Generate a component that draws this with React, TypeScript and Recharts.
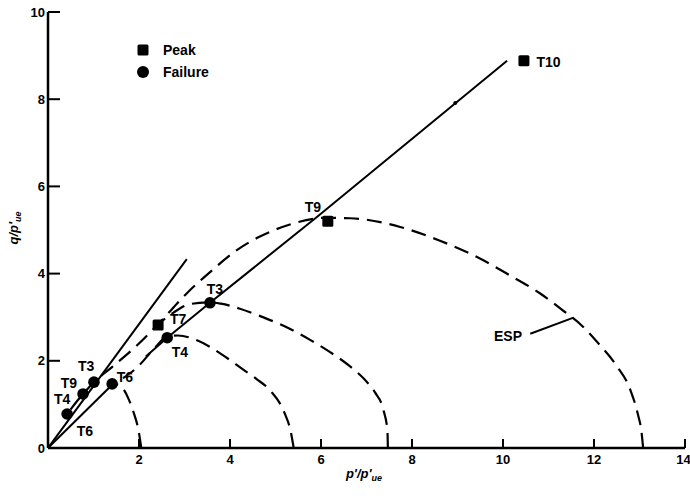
import React from 'react';
import { ComposedChart, Line, Scatter, XAxis, YAxis, Legend } from 'recharts';

const xTicks = [2, 4, 6, 8, 10, 12, 14];
const yTicks = [0, 2, 4, 6, 8, 10];

const cslLower = [{ x: 0, y: 0 }, { x: 1.41, y: 1.45 }];
const cslUpper = [
  { x: 2.15, y: 2.1 }, { x: 2.62, y: 2.53 }, { x: 3.56, y: 3.33 },
  { x: 5.91, y: 5.3 }, { x: 10.09, y: 8.88 },
];
const steepLine = [{ x: 0, y: 0 }, { x: 3.05, y: 4.33 }];
const espPointer = [{ x: 10.6, y: 2.62 }, { x: 11.55, y: 2.99 }];

const espT9 = [
  { x: 13.08, y: 0 }, { x: 13.04, y: 0.4 }, { x: 12.97, y: 0.75 }, { x: 12.8, y: 1.33 },
  { x: 12.5, y: 1.88 }, { x: 12.07, y: 2.43 }, { x: 11.74, y: 2.8 }, { x: 11.3, y: 3.17 },
  { x: 10.81, y: 3.55 }, { x: 10.1, y: 3.99 }, { x: 9.43, y: 4.38 }, { x: 8.6, y: 4.76 },
  { x: 7.74, y: 5.07 }, { x: 6.64, y: 5.27 }, { x: 6.1, y: 5.28 }, { x: 5.3, y: 5.12 },
  { x: 4.6, y: 4.82 }, { x: 4.15, y: 4.54 }, { x: 3.6, y: 4.07 }, { x: 3.08, y: 3.58 },
  { x: 2.42, y: 2.84 }, { x: 1.9, y: 2.3 }, { x: 1.4, y: 1.85 }, { x: 1.01, y: 1.51 },
  { x: 0.77, y: 1.24 }, { x: 0.42, y: 0.78 },
];
const espT3 = [
  { x: 7.47, y: 0 }, { x: 7.46, y: 0.4 }, { x: 7.37, y: 0.88 }, { x: 7.19, y: 1.27 },
  { x: 6.95, y: 1.58 }, { x: 6.64, y: 1.87 }, { x: 6.2, y: 2.2 }, { x: 5.76, y: 2.48 },
  { x: 5.2, y: 2.79 }, { x: 4.65, y: 3.03 }, { x: 4.2, y: 3.2 }, { x: 3.8, y: 3.31 },
  { x: 3.56, y: 3.34 }, { x: 3.12, y: 3.3 }, { x: 2.75, y: 3.1 }, { x: 2.42, y: 2.84 },
];
const espT4 = [
  { x: 5.4, y: 0 }, { x: 5.33, y: 0.4 }, { x: 5.2, y: 0.8 }, { x: 4.9, y: 1.3 },
  { x: 4.6, y: 1.57 }, { x: 4.3, y: 1.79 }, { x: 3.8, y: 2.16 }, { x: 3.3, y: 2.46 },
  { x: 2.85, y: 2.58 }, { x: 2.62, y: 2.56 }, { x: 2.35, y: 2.3 }, { x: 1.97, y: 1.86 },
  { x: 1.65, y: 1.6 },
];
const espT6 = [
  { x: 2.05, y: 0 }, { x: 1.99, y: 0.4 }, { x: 1.88, y: 0.82 }, { x: 1.76, y: 1.15 },
  { x: 1.62, y: 1.4 }, { x: 1.45, y: 1.48 },
];

const peakPoints = [
  { x: 10.46, y: 8.88 }, { x: 6.15, y: 5.2 }, { x: 2.42, y: 2.82 },
];
const failurePoints = [
  { x: 3.56, y: 3.33 }, { x: 2.62, y: 2.53 }, { x: 1.41, y: 1.47 },
  { x: 1.01, y: 1.51 }, { x: 0.77, y: 1.24 }, { x: 0.42, y: 0.78 },
];
const smallMark = [{ x: 8.95, y: 7.91 }];

const pointLabels = [
  { x: 11.0, y: 8.85, text: 'T10' },
  { x: 5.82, y: 5.53, text: 'T9' },
  { x: 3.67, y: 3.65, text: 'T3' },
  { x: 2.86, y: 2.96, text: 'T7' },
  { x: 2.9, y: 2.2, text: 'T4' },
  { x: 0.84, y: 1.88, text: 'T3' },
  { x: 0.46, y: 1.49, text: 'T9' },
  { x: 0.31, y: 1.12, text: 'T4' },
  { x: 0.81, y: 0.39, text: 'T6' },
  { x: 1.69, y: 1.63, text: 'T6' },
  { x: 10.11, y: 2.57, text: 'ESP' },
];

const legendItems = [
  { label: 'Peak', shape: 'square' },
  { label: 'Failure', shape: 'circle' },
];

const FONT = '"Liberation Sans", Arial, Helvetica, sans-serif';

const SquareShape = (p: any) => (
  <rect x={p.cx - 5.5} y={p.cy - 5.5} width={11} height={11} rx={1.5} fill="#000" />
);
const CircleShape = (p: any) => <circle cx={p.cx} cy={p.cy} r={5.8} fill="#000" />;
const SmallShape = (p: any) => <circle cx={p.cx} cy={p.cy} r={2} fill="#000" />;
const TextShape = (p: any) => (
  <text
    x={p.cx}
    y={p.cy}
    textAnchor="middle"
    dominantBaseline="central"
    fontFamily={FONT}
    fontWeight={700}
    fontSize={14}
    fill="#000"
  >
    {p.payload.text}
  </text>
);

const LegendBox = () => (
  <div style={{ fontFamily: FONT, fontWeight: 700, fontSize: 14, color: '#000' }}>
    {legendItems.map((it) => (
      <div key={it.label} style={{ display: 'flex', alignItems: 'center', height: 22 }}>
        <svg width={14} height={14}>
          {it.shape === 'square' ? (
            <rect x={1.5} y={1.5} width={11} height={11} rx={1.5} fill="#000" />
          ) : (
            <circle cx={7} cy={7} r={6} fill="#000" />
          )}
        </svg>
        <span style={{ marginLeft: 13 }}>{it.label}</span>
      </div>
    ))}
  </div>
);

const YTitle = () => (
  <text
    x={18}
    y={228}
    transform="rotate(-90, 18, 228)"
    textAnchor="middle"
    fontFamily={FONT}
    fontWeight={700}
    fontStyle="italic"
    fontSize={13}
    fill="#000"
  >
    q/p'<tspan fontSize={9} dy={3}>ue</tspan>
  </text>
);

const XTitle = () => (
  <text
    x={364}
    y={478}
    textAnchor="middle"
    fontFamily={FONT}
    fontWeight={700}
    fontStyle="italic"
    fontSize={13}
    fill="#000"
  >
    p'/p'<tspan fontSize={9} dy={3}>ue</tspan>
  </text>
);

const tickStyle = { fill: '#000', fontSize: 13, fontWeight: 700, fontFamily: FONT };
const dash = '15 8';

export default function App() {
  return (
    <div style={{ position: 'absolute', left: 0, top: 0, background: '#fff' }}>
      <ComposedChart width={690} height={496} margin={{ top: 12, right: 5, bottom: 18, left: 18 }}>
        <XAxis
          type="number"
          dataKey="x"
          domain={[0, 14]}
          ticks={xTicks}
          allowDataOverflow
          height={30}
          axisLine={{ stroke: '#000', strokeWidth: 2.5 }}
          tickLine={{ stroke: '#000', strokeWidth: 2 }}
          tickSize={-9}
          tickMargin={16}
          tick={tickStyle}
          label={{ content: XTitle }}
        />
        <YAxis
          type="number"
          dataKey="y"
          domain={[0, 10]}
          ticks={yTicks}
          allowDataOverflow
          width={30}
          axisLine={{ stroke: '#000', strokeWidth: 2.5 }}
          tickLine={{ stroke: '#000', strokeWidth: 2 }}
          tickSize={-12}
          tickMargin={15}
          tick={tickStyle}
          label={{ content: YTitle }}
        />
        <Legend
          layout="horizontal"
          verticalAlign="middle"
          content={LegendBox}
          wrapperStyle={{ position: 'absolute', left: 136, top: 39, width: 'auto', height: 'auto' }}
        />
        <Line data={cslLower} dataKey="y" type="linear" stroke="#000" strokeWidth={2} dot={false} isAnimationActive={false} legendType="none" />
        <Line data={cslUpper} dataKey="y" type="linear" stroke="#000" strokeWidth={2} dot={false} isAnimationActive={false} legendType="none" />
        <Line data={steepLine} dataKey="y" type="linear" stroke="#000" strokeWidth={2} dot={false} isAnimationActive={false} legendType="none" />
        <Line data={espPointer} dataKey="y" type="linear" stroke="#000" strokeWidth={2} dot={false} isAnimationActive={false} legendType="none" />
        <Line data={espT9} dataKey="y" type="monotone" stroke="#000" strokeWidth={2.2} strokeDasharray={dash} dot={false} isAnimationActive={false} legendType="none" />
        <Line data={espT3} dataKey="y" type="monotone" stroke="#000" strokeWidth={2.2} strokeDasharray={dash} dot={false} isAnimationActive={false} legendType="none" />
        <Line data={espT4} dataKey="y" type="monotone" stroke="#000" strokeWidth={2.2} strokeDasharray={dash} dot={false} isAnimationActive={false} legendType="none" />
        <Line data={espT6} dataKey="y" type="monotone" stroke="#000" strokeWidth={2.2} strokeDasharray={dash} dot={false} isAnimationActive={false} legendType="none" />
        <Scatter data={peakPoints} dataKey="y" shape={SquareShape} isAnimationActive={false} legendType="none" />
        <Scatter data={failurePoints} dataKey="y" shape={CircleShape} isAnimationActive={false} legendType="none" />
        <Scatter data={smallMark} dataKey="y" shape={SmallShape} isAnimationActive={false} legendType="none" />
        <Scatter data={pointLabels} dataKey="y" shape={TextShape} isAnimationActive={false} legendType="none" />
      </ComposedChart>
    </div>
  );
}
